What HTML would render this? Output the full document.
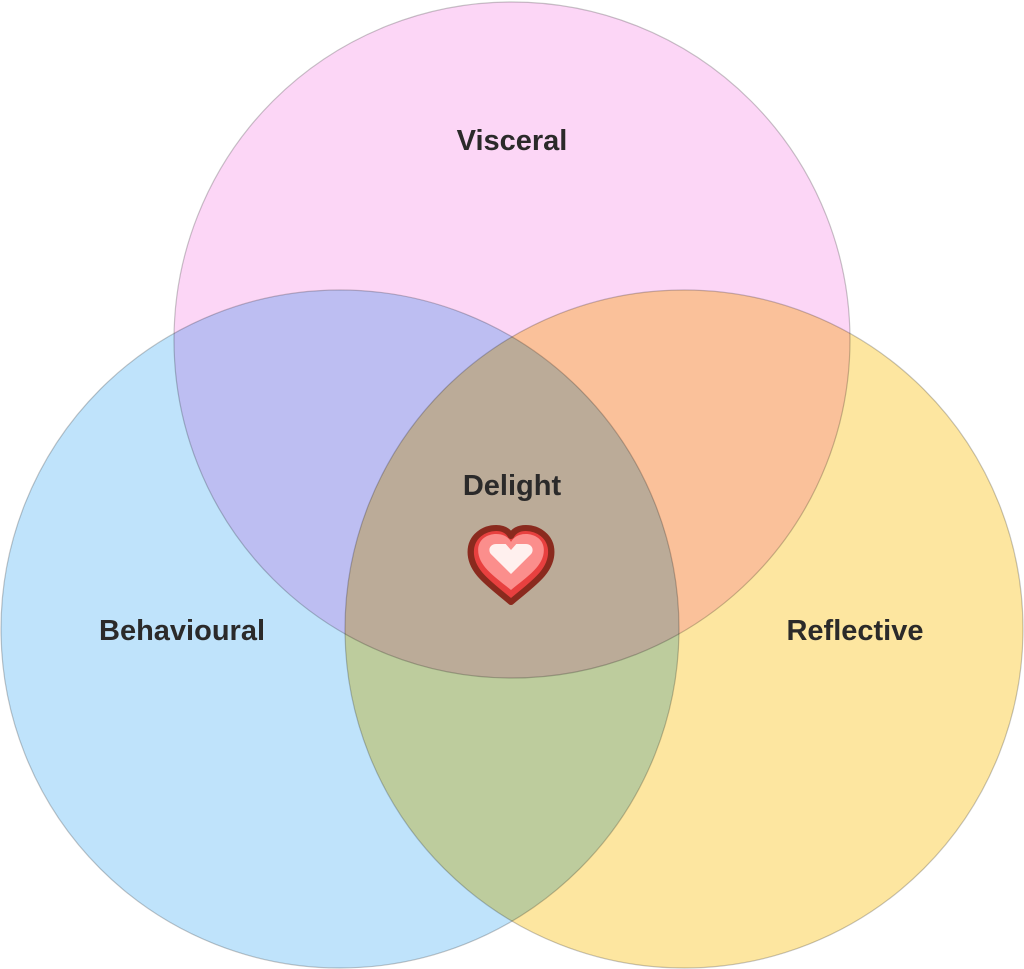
<!DOCTYPE html>
<html><head><meta charset="utf-8"><style>
html,body{margin:0;padding:0;background:#fff;width:1024px;height:969px;overflow:hidden}
svg{display:block}
text{font-family:"Liberation Sans",sans-serif;font-weight:bold;font-size:29px;fill:#2b2a2a;text-anchor:middle}
</style></head><body>
<svg width="1024" height="969" viewBox="0 0 1024 969">
<g style="isolation:isolate">
<circle cx="512" cy="340" r="338" fill="#fcd6f6" style="mix-blend-mode:multiply"/>
<circle cx="340" cy="629" r="339" fill="#bfe3fb" style="mix-blend-mode:multiply"/>
<circle cx="684" cy="629" r="339" fill="#fde6a0" style="mix-blend-mode:multiply"/>
</g>
<g fill="none" stroke="#000" stroke-opacity="0.22" stroke-width="1.2">
<circle cx="512" cy="340" r="338"/>
<circle cx="340" cy="629" r="339"/>
<circle cx="684" cy="629" r="339"/>
</g>
<text x="512" y="150">Visceral</text>
<text x="182" y="640">Behavioural</text>
<text x="855" y="640">Reflective</text>
<text x="512" y="495">Delight</text>
<g transform="translate(511,566) scale(1.06,1)">
<path d="M0,36 C-20,18 -38,6 -38,-14 C-38,-30 -25,-38 -14,-38 C-6,-38 -2,-34 0,-30 C2,-34 6,-38 14,-38 C25,-38 38,-30 38,-14 C38,6 20,18 0,36 Z" fill="#e8403f" stroke="#8a2a1e" stroke-width="6" stroke-linejoin="round"/>
<path d="M0,24 C-16,10 -31,0 -31,-16 C-31,-27 -22,-32 -14,-32 C-6,-32 -2,-28 0,-24 C2,-28 6,-32 14,-32 C22,-32 31,-27 31,-16 C31,0 16,10 0,24 Z" fill="#fb8e8c"/>
<path d="M0,8 L-19,-12 C-22,-16 -20,-22 -14,-22 L-5,-22 L0,-16 L5,-22 L14,-22 C20,-22 22,-16 19,-12 Z" fill="#fff0ee"/>
</g>
</svg>
</body></html>
